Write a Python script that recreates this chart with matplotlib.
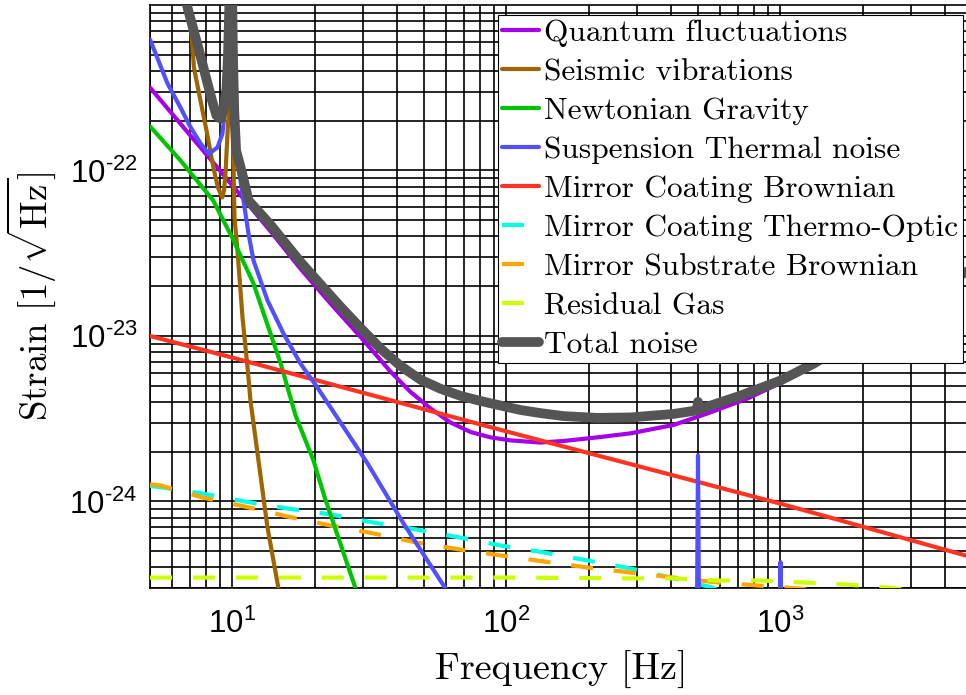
import numpy as np
import matplotlib
matplotlib.use('Agg')
import matplotlib.pyplot as plt
from matplotlib.ticker import FuncFormatter

plt.rcParams['mathtext.fontset'] = 'cm'
plt.rcParams['font.family'] = ['cmr10', 'DejaVu Serif']
plt.rcParams['axes.formatter.use_mathtext'] = True

# ---- data (frequency in Hz, strain in 1/sqrt(Hz)) ----
quantum_f = [5.0, 6.63, 8.82, 11.63, 13.76, 17.7, 22.8, 29.3, 37.7, 44.6, 52.8, 62.5,
             73.9, 87.4, 103.4, 133, 161.5, 214.8, 283.5, 407, 541, 758, 1000, 2000, 5000]
quantum_h = [3.17e-22, 1.82e-22, 1.04e-22, 6.0e-23, 4.3e-23, 2.55e-23, 1.57e-23, 9.9e-24,
             6.1e-24, 4.6e-24, 3.65e-24, 3.0e-24, 2.63e-24, 2.44e-24, 2.34e-24, 2.27e-24,
             2.32e-24, 2.44e-24, 2.58e-24, 2.9e-24, 3.4e-24, 4.19e-24, 5.2e-24, 1.0e-23,
             2.5e-23]

seismic_f = [6.8, 6.9, 7.1, 7.23, 7.64, 8.08, 8.52, 8.85, 9.17, 9.32, 9.43, 9.59, 9.75,
             9.9, 10.05, 10.17, 10.43, 10.88, 11.35, 11.63, 12.44, 13.42, 14.72, 15.3]
seismic_h = [1.3e-21, 1.0e-21, 6.5e-22, 4.21e-22, 2.65e-22, 1.67e-22, 1.04e-22, 7.9e-23,
             6.87e-23, 7.6e-23, 9.6e-23, 1.67e-22, 2.76e-22, 3e-21, 1.5e-22, 5.2e-23,
             3.29e-23, 1.29e-23, 6.46e-24, 4.07e-24, 1.77e-24, 6.97e-25, 2.98e-25, 2.2e-25]

newton_f = [5.0, 6.46, 8.5, 10.0, 10.88, 11.9, 15.0, 17.0, 19.75, 21.7, 28.1, 30.0]
newton_h = [1.85e-22, 1.15e-22, 6.6e-23, 3.9e-23, 2.88e-23, 2.1e-23, 6.8e-24, 3.3e-24,
            1.77e-24, 1.06e-24, 3.0e-25, 2.2e-25]

susp_f = [5.0, 5.79, 6.46, 7.0, 7.64, 8.19, 8.82, 9.19, 9.27, 9.5, 9.7, 9.85, 10.05,
          10.43, 10.97, 11.44, 11.93, 13.42, 15.35, 17.7, 20.4, 31.1, 42.1, 59.9, 70,
          490, 500, 510, 990, 1000, 1010, 5000]
susp_h = [6.19e-22, 3.36e-22, 2.40e-22, 1.85e-22, 1.46e-22, 1.26e-22, 1.38e-22, 1.67e-22,
          1.92e-22, 3e-22, 6e-22, 1e-21, 3e-22, 1.15e-22, 6.59e-23, 4.16e-23, 2.86e-23,
          1.64e-23, 1.035e-23, 6.82e-24, 4.89e-24, 1.70e-24, 7.36e-25, 2.98e-25, 2.0e-25,
          1e-26, 1.9e-24, 1e-26, 1e-26, 4.3e-25, 1e-26, 1e-27]

coat_brown_f = [5.0, 10.0, 100.0, 1000.0, 5000.0]
coat_brown_h = [1.0e-23, 7.4e-24, 2.65e-24, 9.7e-25, 4.6e-25]

coat_to_f = [5.0, 5.46, 7.77, 11.06, 15.87, 22.8, 32.7, 46.9, 67.4, 95.1, 136.5,
             197.5, 283.5, 407, 565, 700]
coat_to_h = [1.24e-24, 1.22e-24, 1.117e-24, 1.0e-24, 9.07e-25, 8.35e-25, 7.46e-25,
             6.77e-25, 6.06e-25, 5.42e-25, 4.92e-25, 4.40e-25, 3.94e-25, 3.43e-25,
             3.02e-25, 2.5e-25]

substrate_f = [5.0, 5.46, 7.77, 11.06, 15.87, 22.8, 32.7, 46.9, 67.4, 95.1, 136.5,
               197.5, 283.5, 407, 589, 838, 1172, 1500]
substrate_h = [1.27e-24, 1.25e-24, 1.057e-24, 9.33e-25, 8.12e-25, 7.16e-25, 6.41e-25,
               5.65e-25, 5.13e-25, 4.72e-25, 4.34e-25, 3.99e-25, 3.72e-25, 3.47e-25,
               3.24e-25, 3.10e-25, 2.98e-25, 2.8e-25]

gas_f = [5.0, 100.0, 283.5, 407, 589, 838, 1202, 1726, 2477, 3000]
gas_h = [3.47e-25, 3.47e-25, 3.43e-25, 3.43e-25, 3.33e-25, 3.33e-25, 3.24e-25,
         3.15e-25, 3.02e-25, 2.9e-25]

total_f = [6.5, 6.74, 7.55, 7.97, 8.42, 8.74, 9.04, 9.27, 9.51, 9.63, 9.74, 9.86, 9.98,
           10.05, 10.15, 10.31, 10.85, 11.44, 13.76, 17.71, 20.95, 24.8, 29.3, 34.7,
           41.0, 48.5, 57.4, 67.9, 80.3, 95.1, 112.5, 133, 161.5, 214.8, 283.5, 407,
           495, 500, 505, 714, 1000, 1320, 2000, 4660, 5000]
total_h = [1.4e-21, 1.07e-21, 5.31e-22, 3.75e-22, 2.65e-22, 2.15e-22, 2.06e-22, 2.31e-22,
           3.13e-22, 4.95e-22, 1.0e-21, 3e-21, 1.0e-21, 4.6e-22, 2.3e-22, 1.32e-22,
           9.6e-23, 6.59e-23, 4.7e-23, 2.8e-23, 2.05e-23, 1.5e-23, 1.12e-23, 8.4e-24,
           6.6e-24, 5.45e-24, 4.8e-24, 4.35e-24, 4.05e-24, 3.8e-24, 3.57e-24, 3.42e-24,
           3.28e-24, 3.2e-24, 3.22e-24, 3.38e-24, 3.55e-24, 4.0e-24, 3.6e-24, 4.36e-24,
           5.38e-24, 6.8e-24, 1.03e-23, 2.39e-23, 2.56e-23]

labels = ['Quantum fluctuations', 'Seismic vibrations', 'Newtonian Gravity',
          'Suspension Thermal noise', 'Mirror Coating Brownian',
          'Mirror Coating Thermo-Optic', 'Mirror Substrate Brownian',
          'Residual Gas', 'Total noise']

LW = 3.0
DASH = (0, (5.3, 5.0))
series = [
    (quantum_f, quantum_h, '#A600E8', '-', LW, 5),
    (seismic_f, seismic_h, '#A06400', '-', LW, 5),
    (newton_f, newton_h, '#00C400', '-', LW, 5),
    (susp_f, susp_h, '#5050FF', '-', LW, 6),
    (coat_brown_f, coat_brown_h, '#FF3322', '-', LW, 5),
    (coat_to_f, coat_to_h, '#00FFE4', DASH, LW, 3),
    (substrate_f, substrate_h, '#FFA500', DASH, LW, 3.5),
    (gas_f, gas_h, '#CCFF00', DASH, LW, 4),
    (total_f, total_h, '#555555', '-', 7.0, 7),
]


def pow10_label(v, pos):
    # MATLAB-style exponent with a short hyphen instead of a minus sign
    e = int(round(np.log10(v)))
    s = str(e).replace('-', '\u2010')
    return r'$\mathregular{10^{%s}}$' % s


fig = plt.figure(figsize=(9.66, 6.95), dpi=100)
ax = fig.add_axes([150 / 966, 107 / 695, 822 / 966, 583 / 695])

for (f, h, c, ls, lw, z), lab in zip(series, labels):
    ax.plot(f, h, color=c, ls=ls, lw=lw, zorder=z, label=lab,
            solid_joinstyle='round', solid_capstyle='round')

ax.set_xscale('log')
ax.set_yscale('log')
ax.set_xlim(5, 5000)
ax.set_ylim(3e-25, 1e-21)
ax.set_xticks([10, 100, 1000])
ax.set_yticks([1e-24, 1e-23, 1e-22])
ax.xaxis.set_major_formatter(FuncFormatter(pow10_label))
ax.yaxis.set_major_formatter(FuncFormatter(pow10_label))
ax.set_axisbelow(True)
ax.grid(which='both', color='k', lw=1.2, alpha=1)
ax.tick_params(which='both', length=0, labelsize=22.5, labelfontfamily='Liberation Sans')
ax.tick_params(axis='y', pad=9)
ax.tick_params(axis='x', pad=15)
for s in ax.spines.values():
    s.set_linewidth(1.2)

ax.set_xlabel('Frequency [Hz]', fontsize=27.5, labelpad=8)
ax.set_ylabel(r'Strain $[1/\sqrt{\mathrm{Hz}}]$', fontsize=26.5, labelpad=8)

leg = ax.legend(loc='upper right', bbox_to_anchor=(1 - 9 / 822, 1 - 10 / 583),
                borderaxespad=0, fontsize=22.6, handlelength=1.18, handletextpad=0.16,
                labelspacing=0.35, borderpad=0.14, fancybox=False, framealpha=1,
                edgecolor='k')
leg.get_frame().set_linewidth(0.8)
leg.set_zorder(10)

fig.savefig('out.png', dpi=100)
